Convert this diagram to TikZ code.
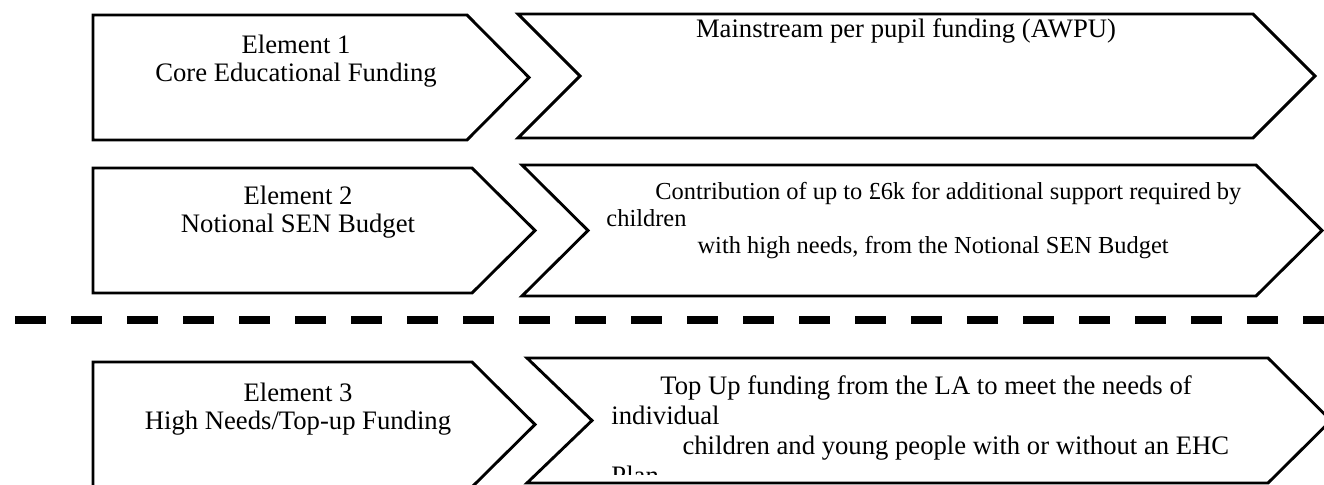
\documentclass[tikz,border=0pt]{standalone}
\usepackage{fontspec}
\setmainfont{Liberation Serif}
\usetikzlibrary{positioning}

\begin{document}
\begin{tikzpicture}[
    x=0.45pt, y=-0.45pt,
    shp/.style={draw, line width=1.3pt, line join=miter},
    lbl/.style={align=center, anchor=base, inner sep=0pt, font=\fontsize{12}{13}\selectfont},
    wrp/.style={align=left, anchor=base west, inner sep=0pt}
]
\useasboundingbox (0,0) rectangle (1324,485);

% Element 1
\draw[shp] (93,15) -- (467,15) -- (529,77.5) -- (467,140) -- (93,140) -- cycle;
\draw[shp] (518,14) -- (1253,14) -- (1315,76) -- (1253,138) -- (518,138) -- (580,76) -- cycle;
\node[lbl] (el1) at (296,82) {Element 1\\Core Educational Funding};
\node[lbl] (fund1) at (906,38) {Mainstream per pupil funding (AWPU)};

% Element 2
\draw[shp] (93,168) -- (472,168) -- (535,230.5) -- (472,293) -- (93,293) -- cycle;
\draw[shp] (522,165) -- (1256,165) -- (1322,230.5) -- (1256,296) -- (522,296) -- (588,230.5) -- cycle;
\node[lbl] (el2) at (298,233) {Element 2\\Notional SEN Budget};
\node[wrp, font=\fontsize{11}{12.2}\selectfont] (fund2) at (606,254) {\hspace*{22pt}Contribution of up to £6k for additional support required by\\children\\\hspace*{41pt}with high needs, from the Notional SEN Budget};

% split
\draw[line width=3.6pt, dash pattern=on 14pt off 11.2pt] (15,320) -- (1324,320);

% Element 3
\draw[shp] (93,362) -- (472,362) -- (535,424.5) -- (472,487) -- (93,487) -- cycle;
\draw[shp] (527,358) -- (1268,358) -- (1331,420.5) -- (1268,483) -- (527,483) -- (592,420.5) -- cycle;
\node[lbl] (el3) at (298,430) {Element 3\\High Needs/Top-up Funding};
\begin{scope}
\clip (527,358) rectangle (1268,475);
\node[wrp, font=\fontsize{12}{13.5}\selectfont] (fund3) at (611,485) {\hspace*{22pt}Top Up funding from the LA to meet the needs of\\individual\\\hspace*{32pt}children and young people with or without an EHC\\Plan};
\end{scope}
\end{tikzpicture}
\end{document}
